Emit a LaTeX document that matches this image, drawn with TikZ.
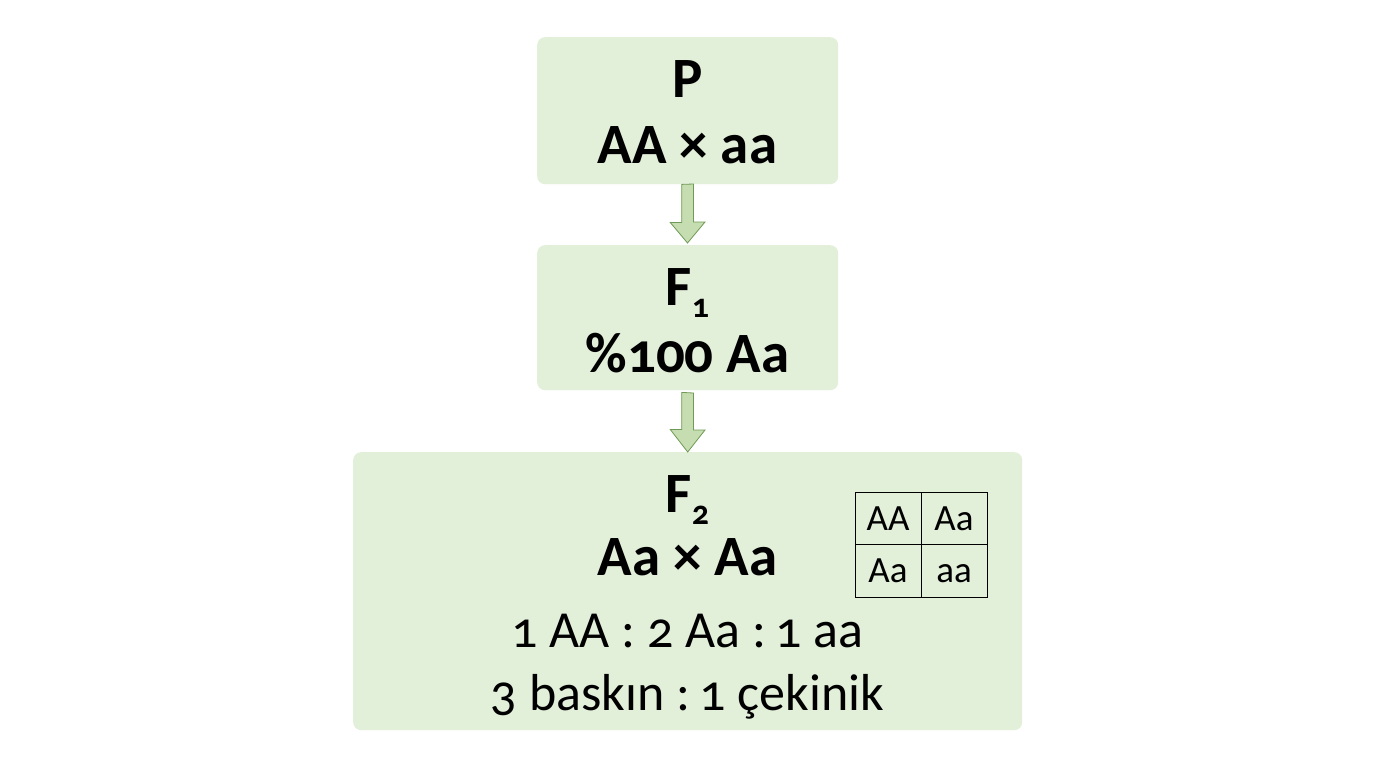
\documentclass[tikz,border=0pt]{standalone}
\usepackage{fontspec}
\setmainfont[Numbers=OldStyle]{Carlito}
\definecolor{boxfill}{HTML}{E2EFD9}
\definecolor{arrfill}{HTML}{C5DDB0}
\definecolor{arrline}{HTML}{6F9A55}
\newcommand{\subdig}[1]{\raisebox{-0.22em}{\fontsize{34}{34}\selectfont #1}}
\newcommand{\one}{\kern-0.12em 1}
\tikzset{
  panel/.style={fill=boxfill, draw=none, rounded corners=8pt},
  bigbold/.style={anchor=base, inner sep=0pt, font=\fontsize{57}{57}\selectfont\bfseries},
  bigreg/.style={anchor=base, inner sep=0pt, font=\fontsize{52}{52}\selectfont},
  cell/.style={anchor=base, inner sep=0pt, font=\fontsize{37}{37}\selectfont},
  blockarrow/.style={fill=arrfill, draw=arrline, line width=0.8pt, line join=miter}
}
\begin{document}
\begin{tikzpicture}[x=1pt,y=-1pt]
\useasboundingbox (0,0) rectangle (1376,768);
\fill[white] (0,0) rectangle (1376,768);
% boxes
\node[panel, minimum width=301pt, minimum height=147pt, anchor=north west] (pbox) at (537,37) {};
\node[panel, minimum width=301pt, minimum height=145pt, anchor=north west] (f1box) at (537,245) {};
\node[panel, minimum width=669pt, minimum height=278pt, anchor=north west] (f2box) at (353,452) {};
% texts
\node[bigbold] (ptitle) at (687.5,97) {P};
\node[bigbold] (pcross) at (687.5,163) {AA × aa};
\node[bigbold] (f1title) at (687.5,305) {F\subdig{1}};
\node[bigbold] (f1text) at (687.5,372) {\%100 Aa};
\node[bigbold] (f2title) at (687.5,512) {F\subdig{2}};
\node[bigbold] (f2cross) at (687.5,575) {Aa × Aa};
\node[bigreg] (ratio1) at (687.5,647) {1 AA : 2 Aa : \one{} aa};
\node[bigreg] (ratio2) at (687.5,710) {3 baskın : \one{} çekinik};
% punnett
\draw[line width=1pt] (855,492) rectangle (987,597);
\draw[line width=1pt] (921,492) -- (921,597);
\draw[line width=1pt] (855,544) -- (987,544);
\node[cell] (c11) at (888,530) {AA};
\node[cell] (c12) at (954,530) {Aa};
\node[cell] (c21) at (888,582) {Aa};
\node[cell] (c22) at (954,582) {aa};
% arrows
\draw[blockarrow] (pbox.south) ++(-6,0) -- ++(0,38) -- ++(-11.5,0) -- (687.5,243) -- (705,222) -- ++(-11.5,0) -- ++(0,-38) -- cycle;
\draw[blockarrow] (f1box.south) ++(-6,2) -- ++(0,37) -- ++(-11.5,0) -- (f2box.north) -- (705,430) -- ++(-11.5,0) -- ++(0,-37) -- cycle;
\end{tikzpicture}
\end{document}
